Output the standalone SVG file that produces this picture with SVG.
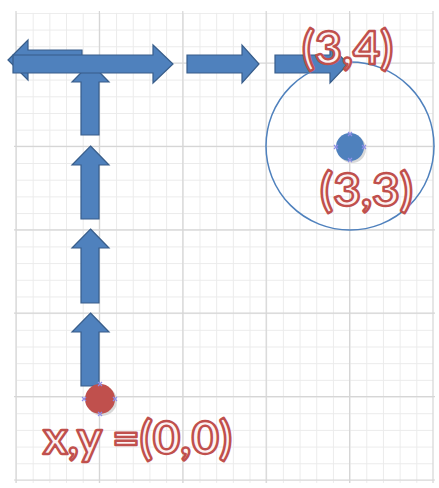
<svg xmlns="http://www.w3.org/2000/svg" width="439" height="488" viewBox="0 0 439 488">
<defs>
<style>
.minor{stroke:#ebebeb;stroke-width:1;fill:none}
.major{stroke:#d6d6d6;stroke-width:1.2;fill:none}
.arr{fill:#4f81bd;stroke:#385d8a;stroke-width:1.2;stroke-linejoin:miter}
.lbl{font-family:Lato,"Open Sans","Liberation Sans",sans-serif;font-size:45px;font-weight:bold;fill:#fdf3f3;stroke:#c0504d;stroke-width:2.4;stroke-linejoin:round}
.hdl{stroke:#8f8fe8;stroke-width:1.2;fill:none}
</style>
<pattern id="mg" x="16" y="12.9" width="16.68" height="16.68" patternUnits="userSpaceOnUse">
<path d="M0.5,0 V16.68 M0,0.5 H16.68" class="minor"/>
</pattern>
</defs>
<rect width="439" height="488" fill="#fff"/>
<g id="grid">
<rect x="16" y="12.9" width="417" height="470" fill="url(#mg)"/>
<path class="major" d="M16,11 V483 M99.4,11 V483 M182.8,11 V483 M266.2,11 V483 M349.6,11 V483 M433,11 V483 M14,63 H435 M14,146.4 H435 M14,229.8 H435 M14,313.2 H435 M14,396.6 H435 M14,480 H435"/>
</g>
<g id="connectors">
<path class="arr" d="M8,60 L28,40 L28,50 L82,50 L82,70 L28,70 L28,80 Z"/>
<path class="arr" d="M90.5,313 L109,332 L99,332 L99,386 L81,386 L81,332 L72,332 Z"/>
<path class="arr" d="M90.5,229 L109,248 L99,248 L99,303 L81,303 L81,248 L72,248 Z"/>
<path class="arr" d="M90.5,146 L109,165 L99,165 L99,219 L81,219 L81,165 L72,165 Z"/>
<path class="arr" d="M90.5,63 L109,82 L99,82 L99,135 L81,135 L81,82 L72,82 Z"/>
<path class="arr" d="M13,55 L153,55 L153,45 L173,64 L153,83 L153,73 L13,73 Z"/>
<path class="arr" d="M187,55 L242,55 L242,45 L259,64 L242,83 L242,73 L187,73 Z"/>
<path class="arr" d="M275,55 L330,55 L330,45 L348,64 L330,83 L330,73 L275,73 Z"/>
</g>
<g id="range-circle">
<circle cx="350" cy="146" r="84" fill="none" stroke="#4f81bd" stroke-width="1.5"/>
</g>
<g id="target-dot">
<circle cx="352" cy="149" r="14" fill="#d9d9d9"/>
<circle cx="350" cy="147" r="14" fill="#4f81bd"/>
<path class="hdl" d="M348,132 l4,4 m0,-4 l-4,4 M348,158 l4,4 m0,-4 l-4,4 M334,145 l4,4 m0,-4 l-4,4 M362,145 l4,4 m0,-4 l-4,4"/>
</g>
<g id="origin-dot">
<circle cx="102" cy="401" r="15" fill="#d9d9d9"/>
<circle cx="100" cy="399" r="15" fill="#c0504d"/>
<path class="hdl" d="M98,382 l4,4 m0,-4 l-4,4 M98,412 l4,4 m0,-4 l-4,4 M82,397 l4,4 m0,-4 l-4,4 M113,397 l4,4 m0,-4 l-4,4"/>
</g>
<g id="labels">
<text class="lbl" x="302" y="64" textLength="91" lengthAdjust="spacingAndGlyphs">(3,4)</text>
<text class="lbl" x="320" y="206" textLength="93" lengthAdjust="spacingAndGlyphs">(3,3)</text>
<text class="lbl" x="43" y="454" textLength="189" lengthAdjust="spacingAndGlyphs">x,y =(0,0)</text>
</g>
</svg>
